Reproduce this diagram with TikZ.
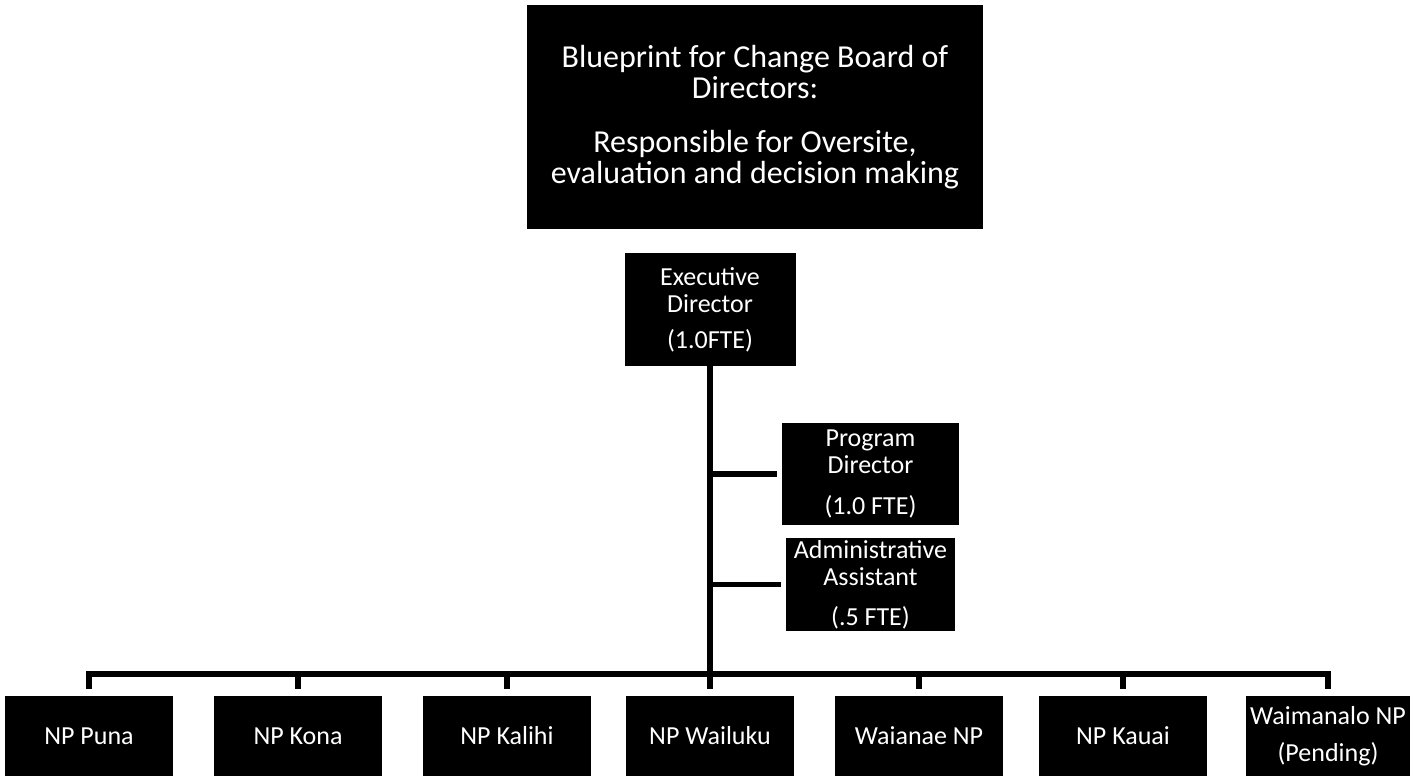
\documentclass[tikz,border=0pt]{standalone}
\usepackage{fontspec}
\setmainfont{Carlito}
\begin{document}
\begin{tikzpicture}[x=1pt,y=-1pt,
  box/.style={fill=black,text=white,align=center,inner sep=0pt,font=\fontsize{26}{27}\selectfont},
  np/.style={box,minimum width=168pt,minimum height=80pt},
  conn/.style={line width=5.5pt,black,line join=miter}]
\useasboundingbox (0,0) rectangle (1421,776);
\node[box,minimum width=456pt,minimum height=224pt,font=\fontsize{32}{30.5}\selectfont] (board) at (755,117)
  {Blueprint for Change Board of\\Directors:\\[24pt]Responsible for Oversite,\\evaluation and decision making};
\node[box,minimum width=171pt,minimum height=113pt] (ed) at (710,309.5) {Executive\\Director\\[9pt](1.0FTE)};
\node[box,minimum width=177pt,minimum height=102pt] (pd) at (870.5,474) {Program\\Director\\[14pt](1.0 FTE)};
\node[box,minimum width=169pt,minimum height=93pt] (aa) at (870.5,584.5) {Administrative\\Assistant\\[13pt](.5 FTE)};
\node[np] (b1) at (89,736) {NP Puna};
\node[np] (b2) at (298,736) {NP Kona};
\node[np] (b3) at (507,736) {NP Kalihi};
\node[np] (b4) at (710,736) {NP Wailuku};
\node[np] (b5) at (919,736) {Waianae NP};
\node[np] (b6) at (1123,736) {NP Kauai};
\node[np,minimum width=164pt] (b7) at (1328,736) {Waimanalo NP\\[10pt](Pending)};
\draw[conn] (ed.south) -- ([yshift=7pt]b4.north);
\draw[conn] ([yshift=7pt]b1.north) -- ++(0,-15) -| ([yshift=7pt]b7.north);
\draw[conn] ([yshift=7pt]b2.north) -- ++(0,-15);
\draw[conn] ([yshift=7pt]b3.north) -- ++(0,-15);
\draw[conn] ([yshift=7pt]b5.north) -- ++(0,-15);
\draw[conn] ([yshift=7pt]b6.north) -- ++(0,-15);
\draw[conn] ([xshift=-5pt]pd.west) -- (pd.west -| ed.south);
\draw[conn] ([xshift=-5pt]aa.west) -- (aa.west -| ed.south);
\end{tikzpicture}
\end{document}
